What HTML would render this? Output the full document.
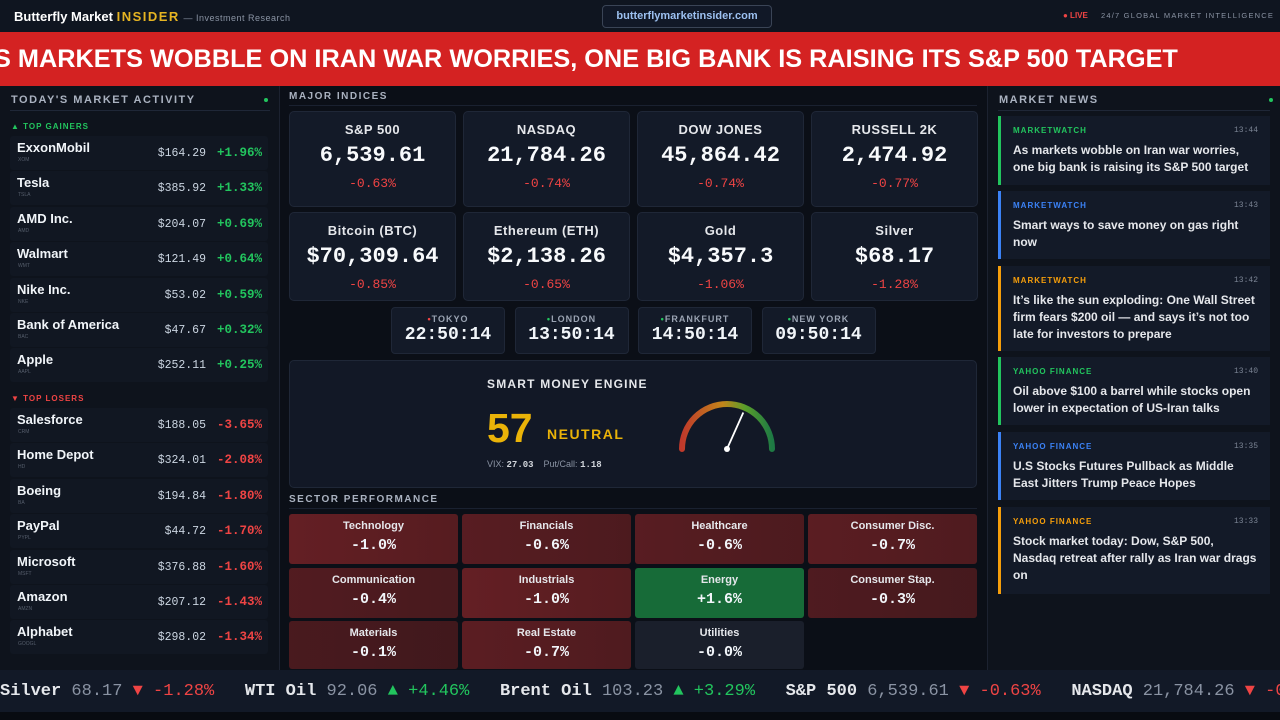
<!DOCTYPE html>
<html><head><meta charset="utf-8">
<style>
*{box-sizing:border-box;margin:0;padding:0}
body{width:1280px;height:720px;overflow:hidden;background:#0b0f17;font-family:"Liberation Sans",sans-serif;color:#e5e7eb;position:relative}
.mono{font-family:"Liberation Mono",monospace}
.abs{position:absolute}
#hdr{left:0;top:0;width:1280px;height:32px;background:#0f1520}
#banner{left:0;top:32px;width:1280px;height:54px;background:#d42222;overflow:hidden;white-space:nowrap;font-weight:bold;font-size:25.3px;color:#fff;line-height:54px}
#left{left:0;top:86px;width:280px;height:584px;background:#0e131c;border-right:1px solid #1c2230;overflow:hidden}
#right{left:987px;top:86px;width:293px;height:584px;background:#0e131c;border-left:1px solid #1c2230;overflow:hidden}
.ptitle{font-size:11px;font-weight:bold;letter-spacing:1.5px;color:#aab2c0;white-space:nowrap}
.row{position:absolute;left:10px;width:258px;height:34px;background:#111722;border-radius:3px}
.row .n{position:absolute;left:7px;top:4px;font-size:13px;font-weight:bold;color:#f1f5f9}
.row .t{position:absolute;left:8px;top:21px;font-size:5px;color:#555d6b}
.row .p{position:absolute;right:62px;top:11px;font-size:11.5px;color:#cbd5e1;font-family:"Liberation Mono",monospace}
.row .c{position:absolute;right:6px;top:10px;font-size:12.5px;font-weight:bold;font-family:"Liberation Mono",monospace}
.card{position:absolute;background:#131a28;border:1px solid #1f2737;border-radius:5px;text-align:center}
.card .l{font-size:13px;font-weight:bold;color:#e5e7eb;margin-top:10px;letter-spacing:.5px}
.card .v{font-family:"Liberation Mono",monospace;font-weight:bold;font-size:22px;color:#f8fafc;margin-top:6px}
.card .c{font-family:"Liberation Mono",monospace;font-size:13px;color:#ef4444;margin-top:8px}
.clk{position:absolute;top:307px;width:114px;height:47px;background:#131a28;border:1px solid #1f2737;border-radius:4px;text-align:center}
.clk .l{font-size:9px;font-weight:bold;letter-spacing:1px;color:#9aa3b2;margin-top:6px}
.clk .v{font-family:"Liberation Mono",monospace;font-weight:bold;font-size:18px;color:#f1f5f9;margin-top:1px}
.sec{position:absolute;border-radius:3px;text-align:center;overflow:hidden}
.sec .l{font-size:11px;font-weight:bold;color:#e5e7eb;margin-top:6px}
.sec .v{font-family:"Liberation Mono",monospace;font-weight:bold;font-size:15px;color:#f1f5f9;margin-top:5px}
.news{position:absolute;left:998px;width:272px;background:#131a28;border-left:3px solid;overflow:hidden}
.news .s{position:absolute;left:12px;top:10px;font-size:8px;font-weight:bold;letter-spacing:1px}
.news .tm{position:absolute;right:12px;top:10px;font-size:8px;color:#7b8494;font-family:"Liberation Mono",monospace}
.news .h{position:absolute;left:12px;top:26px;right:10px;font-size:12px;font-weight:bold;color:#e5e7eb;line-height:17px}
#ticker{left:0;top:670px;width:1280px;height:42px;background:#121927;white-space:nowrap;overflow:hidden;font-family:"Liberation Mono",monospace;font-size:17px;line-height:44px}
#foot{left:0;top:712px;width:1280px;height:8px;background:#080b11}
.g{color:#22c55e}.r{color:#ef4444}
</style></head><body>
<div id="hdr" class="abs">
  <div class="abs" style="left:14px;top:9px;font-size:13px;font-weight:bold;color:#fff;white-space:nowrap">Butterfly Market <span style="color:#e6b422;letter-spacing:1.5px">INSIDER</span> <span style="color:#8a93a3;font-size:9px;font-weight:normal;letter-spacing:.5px">— Investment Research</span></div>
  <div class="abs" style="left:602px;top:5px;width:170px;height:23px;border:1px solid #3a4456;border-radius:4px;background:#111827;color:#9cc0f0;font-size:11px;font-weight:bold;text-align:center;line-height:21px">butterflymarketinsider.com</div>
  <div class="abs" style="left:1063px;top:11px;font-size:8px;font-weight:bold;color:#ef4444;white-space:nowrap">● LIVE</div>
  <div class="abs" style="left:1101px;top:11px;font-size:7.5px;letter-spacing:1.2px;color:#8a93a3;white-space:nowrap">24/7 GLOBAL MARKET INTELLIGENCE</div>
</div>
<div id="banner" class="abs"><span style="position:relative;left:-6px">S MARKETS WOBBLE ON IRAN WAR WORRIES, ONE BIG BANK IS RAISING ITS S&amp;P 500 TARGET</span></div>

<div id="left" class="abs">
  <div class="abs ptitle" style="left:11px;top:8px">TODAY'S MARKET ACTIVITY</div>
  <div class="abs" style="left:264px;top:12px;width:4px;height:4px;border-radius:2px;background:#22c55e"></div>
  <div class="abs" style="left:10px;top:24px;width:260px;height:1px;background:#1f2737"></div>
  <div class="abs" style="left:11px;top:36px;font-size:8px;font-weight:bold;letter-spacing:1px;color:#22c55e">▲ TOP GAINERS</div>
  <div class="abs" style="left:11px;top:308px;font-size:8px;font-weight:bold;letter-spacing:1px;color:#ef4444">▼ TOP LOSERS</div>
  <div id="rows"></div>
</div>

<div class="abs ptitle" style="left:289px;top:91px;font-size:10px">MAJOR INDICES</div>
<div class="abs" style="left:289px;top:105px;width:688px;height:1px;background:#1a2130"></div>
<div id="cards"></div>
<div id="clocks"></div>

<div class="abs" style="left:289px;top:360px;width:688px;height:128px;background:#121826;border:1px solid #1f2737;border-radius:5px">
  <div class="abs" style="left:197px;top:16px;font-size:12px;font-weight:bold;letter-spacing:1.2px;color:#e5e7eb;white-space:nowrap">SMART MONEY ENGINE</div>
  <div class="abs" style="left:197px;top:44px;font-size:41px;font-weight:bold;color:#eab308">57</div>
  <div class="abs" style="left:257px;top:65px;font-size:14px;font-weight:bold;letter-spacing:1.5px;color:#eab308">NEUTRAL</div>
  <div class="abs" style="left:197px;top:98px;font-size:9px;color:#8a93a3;white-space:nowrap">VIX: <b class="mono" style="color:#d1d5db">27.03</b> &nbsp;&nbsp; Put/Call: <b class="mono" style="color:#d1d5db">1.18</b></div>
  <svg class="abs" style="left:380px;top:30px" width="120" height="70" id="gauge">
    <defs><linearGradient id="gg" x1="0" x2="1" y1="0" y2="0"><stop offset="0" stop-color="#c0392b"/><stop offset=".45" stop-color="#c2851a"/><stop offset=".7" stop-color="#5a9e2a"/><stop offset="1" stop-color="#1e7a44"/></linearGradient></defs>
    <path d="M12 58 A45 45 0 0 1 102 58" fill="none" stroke="url(#gg)" stroke-width="6" stroke-linecap="round"/>
  </svg>
</div>

<div class="abs ptitle" style="left:289px;top:494px;font-size:10px">SECTOR PERFORMANCE</div>
<div class="abs" style="left:289px;top:508px;width:688px;height:1px;background:#1a2130"></div>
<div id="sectors"></div>

<div id="right" class="abs">
  <div class="abs ptitle" style="left:11px;top:8px">MARKET NEWS</div>
  <div class="abs" style="left:281px;top:12px;width:4px;height:4px;border-radius:2px;background:#22c55e"></div>
  <div class="abs" style="left:10px;top:24px;width:272px;height:1px;background:#1f2737"></div>
</div>
<div id="news"></div>

<div id="ticker" class="abs"><span style="position:relative;left:0px">
<b>Silver</b> <span style="color:#8a93a3">68.17</span> <span class="r">▼ -1.28%</span>&nbsp;&nbsp;&nbsp;<b>WTI Oil</b> <span style="color:#8a93a3">92.06</span> <span class="g">▲ +4.46%</span>&nbsp;&nbsp;&nbsp;<b>Brent Oil</b> <span style="color:#8a93a3">103.23</span> <span class="g">▲ +3.29%</span>&nbsp;&nbsp;&nbsp;<b>S&amp;P 500</b> <span style="color:#8a93a3">6,539.61</span> <span class="r">▼ -0.63%</span>&nbsp;&nbsp;&nbsp;<b>NASDAQ</b> <span style="color:#8a93a3">21,784.26</span> <span class="r">▼ -0.74%</span></span></div>
<div id="foot" class="abs"></div>

<script>
const stockNames=["ExxonMobil","Tesla","AMD Inc.","Walmart","Nike Inc.","Bank of America","Apple","Salesforce","Home Depot","Boeing","PayPal","Microsoft","Amazon","Alphabet"];
const stockTickers=["XOM","TSLA","AMD","WMT","NKE","BAC","AAPL","CRM","HD","BA","PYPL","MSFT","AMZN","GOOGL"];
const stockPrices=[164.29,385.92,204.07,121.49,53.02,47.67,252.11,188.05,324.01,194.84,44.72,376.88,207.12,298.02];
const stockChanges=[1.96,1.33,0.69,0.64,0.59,0.32,0.25,-3.65,-2.08,-1.80,-1.70,-1.60,-1.43,-1.34];
const rows=document.getElementById('rows');
stockNames.forEach((n,i)=>{
  const d=document.createElement('div');d.className='row';
  
  
  const top=i<7?50+i*35.4:322+(i-7)*35.4;
  d.style.top=top+'px';
  const ch=stockChanges[i];
  d.innerHTML=`<div class="n">${n}</div><div class="t">${stockTickers[i]}</div><div class="p">$${stockPrices[i].toFixed(2)}</div><div class="c ${ch>=0?'g':'r'}">${ch>=0?'+':''}${ch.toFixed(2)}%</div>`;
  rows.appendChild(d);
});
const idxNames=["S&P 500","NASDAQ","DOW JONES","RUSSELL 2K","Bitcoin (BTC)","Ethereum (ETH)","Gold","Silver"];
const idxValues=["6,539.61","21,784.26","45,864.42","2,474.92","$70,309.64","$2,138.26","$4,357.3","$68.17"];
const idxChanges=[-0.63,-0.74,-0.74,-0.77,-0.85,-0.65,-1.06,-1.28];
const cards=document.getElementById('cards');
idxNames.forEach((n,i)=>{
  const d=document.createElement('div');d.className='card';
  
  
  const col=i%4,r=Math.floor(i/4);
  d.style.left=(289+col*174)+'px';d.style.top=(111+r*101)+'px';d.style.width='167px';d.style.height=(r?89:96)+'px';
  d.innerHTML=`<div class="l">${n}</div><div class="v">${idxValues[i]}</div><div class="c">${idxChanges[i].toFixed(2)}%</div>`;
  cards.appendChild(d);
});
const cityNames=["TOKYO","LONDON","FRANKFURT","NEW YORK"];
const cityTimes=["22:50:14","13:50:14","14:50:14","09:50:14"];
const cityOpen=[false,true,true,true];
const clocks=document.getElementById('clocks');
cityNames.forEach((n,i)=>{
  const d=document.createElement('div');d.className='clk';
  
  
  d.style.left=(391+i*123.5)+'px';
  d.innerHTML=`<div class="l"><span style="color:${cityOpen[i]?'#22c55e':'#ef4444'}">•</span>${n}</div><div class="v">${cityTimes[i]}</div>`;
  clocks.appendChild(d);
});
const gaugeValue=[57];
(function(){
  const g=document.getElementById('gauge');const ns='http://www.w3.org/2000/svg';
  const a=Math.PI*(1-gaugeValue[0]/100)-0.2;const cx=57,cy=58;
  const l=document.createElementNS(ns,'line');
  
  
  l.setAttribute('x1',cx);l.setAttribute('y1',cy);l.setAttribute('x2',cx+40*Math.cos(a));l.setAttribute('y2',cy-40*Math.sin(a));
  l.setAttribute('stroke','#fff');l.setAttribute('stroke-width','1.8');g.appendChild(l);
  const c=document.createElementNS(ns,'circle');
  
  
  c.setAttribute('cx',cx);c.setAttribute('cy',cy);c.setAttribute('r','3');c.setAttribute('fill','#fff');g.appendChild(c);
})();
const sectorNames=["Technology","Financials","Healthcare","Consumer Disc.","Communication","Industrials","Energy","Consumer Stap.","Materials","Real Estate","Utilities"];
const sectorValues=[-1.0,-0.6,-0.6,-0.7,-0.4,-1.0,1.6,-0.3,-0.1,-0.7,-0.0];
const sec=document.getElementById('sectors');
sectorNames.forEach((n,i)=>{
  const d=document.createElement('div');d.className='sec';
  
  
  const col=i%4,r=Math.floor(i/4);const v=sectorValues[i];
  d.style.left=(289+col*173)+'px';d.style.top=(514+r*53.5)+'px';d.style.width='169px';d.style.height=(r==2?48:50)+'px';
  let bg;
  if(v>0) bg='#176b38';
  else if(Math.abs(v)<0.05) bg='#1a1f2b';
  else {const t=Math.min(Math.abs(v),1);bg=`linear-gradient(90deg,rgb(${70+30*t},${25+6*t},${30+6*t}),rgb(${62+24*t},${24+4*t},${28+4*t}))`;}
  d.style.background=bg;
  d.innerHTML=`<div class="l">${n}</div><div class="v">${v>0?'+':'-'}${Math.abs(v).toFixed(1)}%</div>`;
  sec.appendChild(d);
});
const newsSources=["MARKETWATCH","MARKETWATCH","MARKETWATCH","YAHOO FINANCE","YAHOO FINANCE","YAHOO FINANCE"];
const newsTimes=["13:44","13:43","13:42","13:40","13:35","13:33"];
const newsHeads=["As markets wobble on Iran war worries, one big bank is raising its S&P 500 target","Smart ways to save money on gas right now","It’s like the sun exploding: One Wall Street firm fears $200 oil — and says it’s not too late for investors to prepare","Oil above $100 a barrel while stocks open lower in expectation of US-Iran talks","U.S Stocks Futures Pullback as Middle East Jitters Trump Peace Hopes","Stock market today: Dow, S&P 500, Nasdaq retreat after rally as Iran war drags on"];
const newsColors=["#22c55e","#3b82f6","#f59e0b","#22c55e","#3b82f6","#f59e0b"];
const newsTops=[116,191,266,357,432,507],newsH=[69,68,85,68,68,87];
const nw=document.getElementById('news');
newsHeads.forEach((h,i)=>{
  const d=document.createElement('div');d.className='news';
  
  
  d.style.top=newsTops[i]+'px';d.style.height=newsH[i]+'px';d.style.borderLeftColor=newsColors[i];
  d.innerHTML=`<div class="s" style="color:${newsColors[i]}">${newsSources[i]}</div><div class="tm">${newsTimes[i]}</div><div class="h"></div>`;
  d.querySelector('.h').textContent=h;
  nw.appendChild(d);
});
</script>
</body></html>
